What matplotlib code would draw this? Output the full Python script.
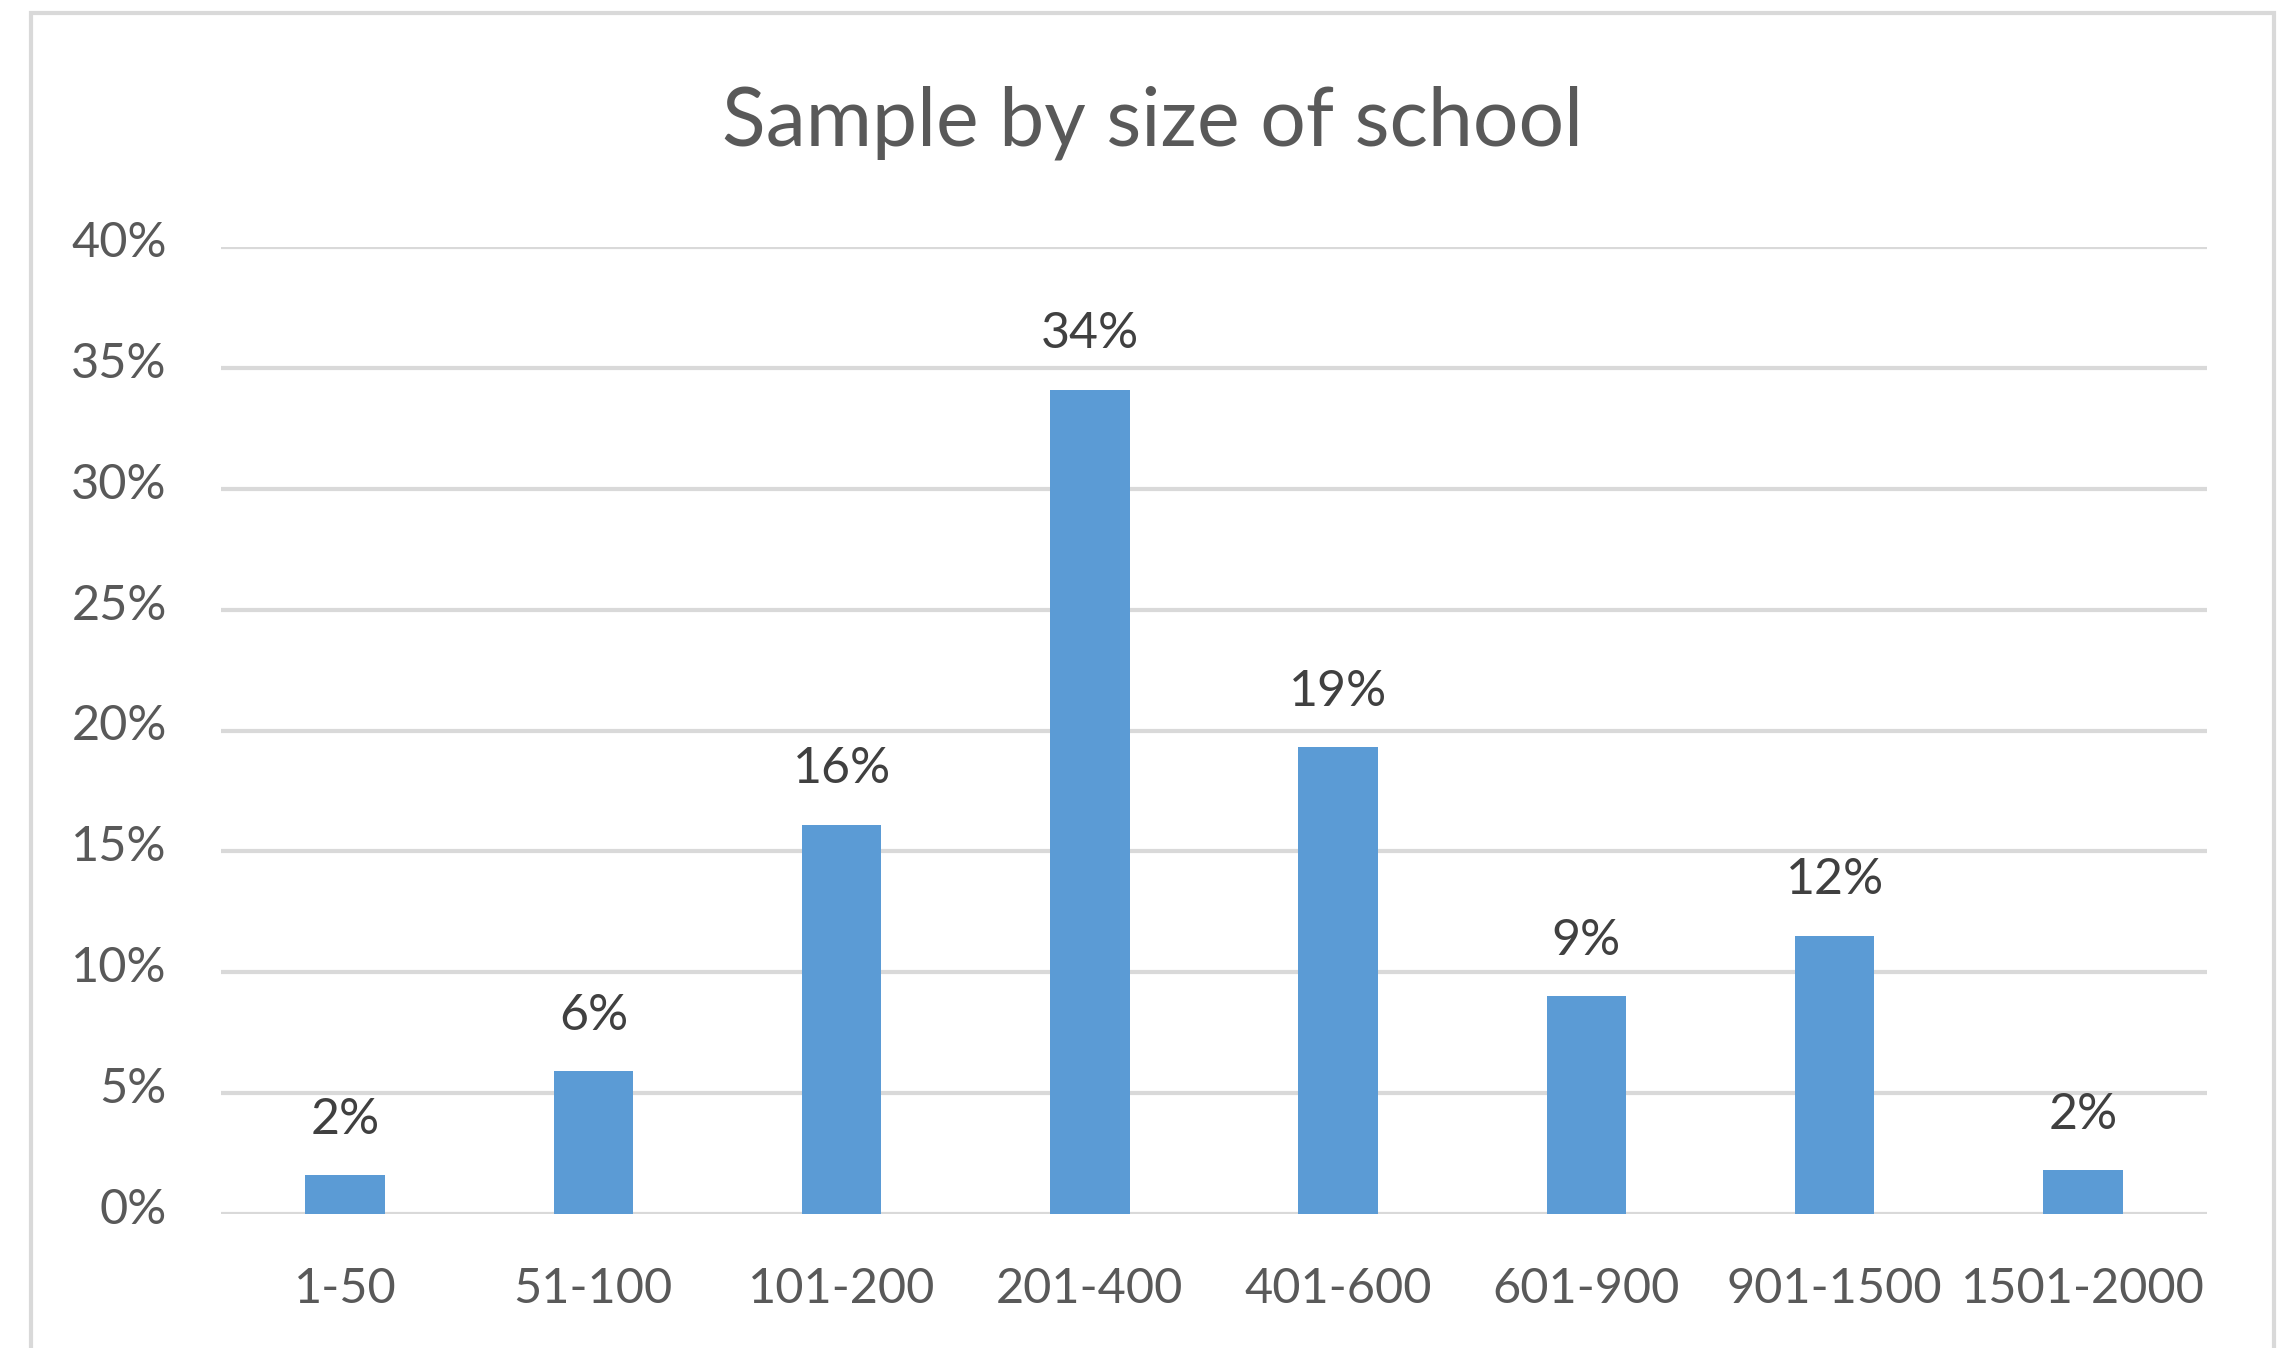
import matplotlib
matplotlib.use("Agg")
import matplotlib.pyplot as plt
from matplotlib.patches import Rectangle
from matplotlib.ticker import FuncFormatter
from matplotlib.transforms import ScaledTranslation

# School size bands and share of the sample (percent)
categories = ["1-50", "51-100", "101-200", "201-400", "401-600",
              "601-900", "901-1500", "1501-2000"]
shares = [1.6, 5.9, 16.1, 34.1, 19.3, 9.0, 11.5, 1.8]
y_ticks = [0, 5, 10, 15, 20, 25, 30, 35, 40]
title = "Sample by size of school"

FONT = "Lato"
BAR = "#5b9bd5"
GRID = "#d9d9d9"
TICK_TXT = "#595959"
LABEL_TXT = "#404040"

W, H, DPI = 2284, 1348, 100
fig = plt.figure(figsize=(W / DPI, H / DPI), dpi=DPI)
fig.patch.set_facecolor("white")

# chart-area frame (bottom edge falls outside the canvas)
fig.add_artist(Rectangle((31 / W, -0.05), (2274 - 31) / W, 1.05 - 13 / H,
                         transform=fig.transFigure, fill=False,
                         edgecolor=GRID, linewidth=3.0))

ax = fig.add_axes([221 / W, (H - 1214) / H, (2207 - 221) / W, (1214 - 247) / H])
x = range(len(categories))
ax.bar(x, shares, width=0.32, color=BAR, zorder=3)
ax.set_xlim(-0.5, len(categories) - 0.5)
ax.set_ylim(0, 40)
ax.set_yticks(y_ticks)
ax.yaxis.set_major_formatter(FuncFormatter(lambda v, _: f"{v:.0f}%"))
ax.set_xticks(list(x))
ax.set_xticklabels(categories)

for s in ax.spines.values():
    s.set_visible(False)
ax.grid(axis="y", color=GRID, linewidth=3.0, zorder=0)
ax.tick_params(axis="both", length=0, labelsize=35, labelcolor=TICK_TXT)
ax.tick_params(axis="y", pad=39)
ax.tick_params(axis="x", pad=38)
for lab in ax.get_xticklabels() + ax.get_yticklabels():
    lab.set_family(FONT)

# nudge the percentage labels slightly above their gridlines
lift = ScaledTranslation(0, 8 / DPI, fig.dpi_scale_trans)
for tick in ax.yaxis.get_major_ticks():
    tick.label1.set_transform(tick.label1.get_transform() + lift)

for xi, v in zip(x, shares):
    ax.annotate(f"{v:.0f}%", (xi, v), xytext=(0, 30), textcoords="offset points",
                ha="center", va="baseline", fontsize=36, color=LABEL_TXT,
                family=FONT)

fig.text(1153 / W, 1 - 145 / H, title, ha="center", va="baseline",
         fontsize=58, color=TICK_TXT, family=FONT)

fig.savefig("out.png", dpi=DPI, facecolor="white")
